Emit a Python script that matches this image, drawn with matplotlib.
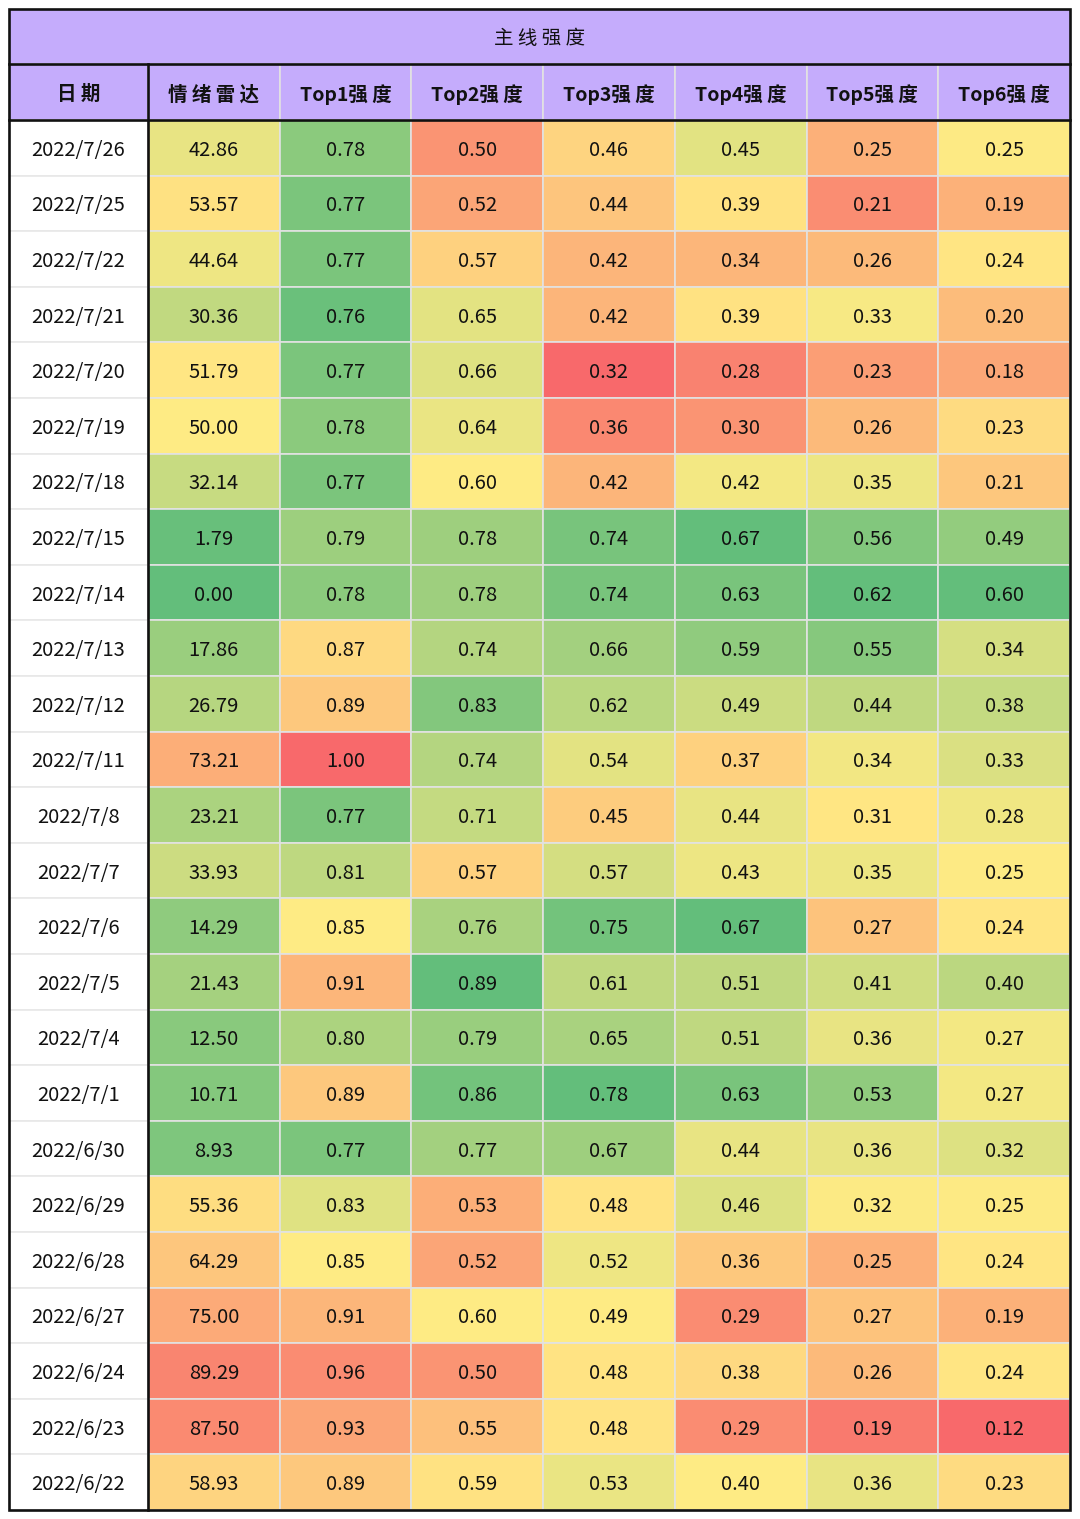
import matplotlib
matplotlib.use("Agg")
import matplotlib.pyplot as plt
from matplotlib.patches import Rectangle
from matplotlib.colors import LinearSegmentedColormap, TwoSlopeNorm

plt.rcParams["font.family"] = ["Noto Sans CJK SC", "DejaVu Sans"]

title = "主 线 强 度"
headers = ["日 期", "情 绪 雷 达", "Top1强 度", "Top2强 度", "Top3强 度",
           "Top4强 度", "Top5强 度", "Top6强 度"]

dates = ["2022/7/26", "2022/7/25", "2022/7/22", "2022/7/21", "2022/7/20",
         "2022/7/19", "2022/7/18", "2022/7/15", "2022/7/14", "2022/7/13",
         "2022/7/12", "2022/7/11", "2022/7/8", "2022/7/7", "2022/7/6",
         "2022/7/5", "2022/7/4", "2022/7/1", "2022/6/30", "2022/6/29",
         "2022/6/28", "2022/6/27", "2022/6/24", "2022/6/23", "2022/6/22"]

sentiment = [42.86, 53.57, 44.64, 30.36, 51.79, 50.00, 32.14, 1.79, 0.00, 17.86,
             26.79, 73.21, 23.21, 33.93, 14.29, 21.43, 12.50, 10.71, 8.93, 55.36,
             64.29, 75.00, 89.29, 87.50, 58.93]
top1 = [0.78, 0.77, 0.77, 0.76, 0.77, 0.78, 0.77, 0.79, 0.78, 0.87, 0.89, 1.00, 0.77,
        0.81, 0.85, 0.91, 0.80, 0.89, 0.77, 0.83, 0.85, 0.91, 0.96, 0.93, 0.89]
top2 = [0.50, 0.52, 0.57, 0.65, 0.66, 0.64, 0.60, 0.78, 0.78, 0.74, 0.83, 0.74, 0.71,
        0.57, 0.76, 0.89, 0.79, 0.86, 0.77, 0.53, 0.52, 0.60, 0.50, 0.55, 0.59]
top3 = [0.46, 0.44, 0.42, 0.42, 0.32, 0.36, 0.42, 0.74, 0.74, 0.66, 0.62, 0.54, 0.45,
        0.57, 0.75, 0.61, 0.65, 0.78, 0.67, 0.48, 0.52, 0.49, 0.48, 0.48, 0.53]
top4 = [0.45, 0.39, 0.34, 0.39, 0.28, 0.30, 0.42, 0.67, 0.63, 0.59, 0.49, 0.37, 0.44,
        0.43, 0.67, 0.51, 0.51, 0.63, 0.44, 0.46, 0.36, 0.29, 0.38, 0.29, 0.40]
top5 = [0.25, 0.21, 0.26, 0.33, 0.23, 0.26, 0.35, 0.56, 0.62, 0.55, 0.44, 0.34, 0.31,
        0.35, 0.27, 0.41, 0.36, 0.53, 0.36, 0.32, 0.25, 0.27, 0.26, 0.19, 0.36]
top6 = [0.25, 0.19, 0.24, 0.20, 0.18, 0.23, 0.21, 0.49, 0.60, 0.34, 0.38, 0.33, 0.28,
        0.25, 0.24, 0.40, 0.27, 0.27, 0.32, 0.25, 0.24, 0.19, 0.24, 0.12, 0.23]

columns = [sentiment, top1, top2, top3, top4, top5, top6]

# colour-scale anchors per column: (red end, yellow mid, green end)
scale_anchors = [(100, 50, 0), (1.00, 0.85, 0.755), (0.45, 0.60, 0.89),
                 (0.32, 0.49, 0.78), (0.25, 0.40, 0.67), (0.17, 0.315, 0.62),
                 (0.12, 0.245, 0.60)]

cmap = LinearSegmentedColormap.from_list("ryg", ["#F8696B", "#FFEB84", "#63BE7B"])

# layout in pixels
W, H = 1080, 1519
left, right, top, bottom = 9, 1070, 9, 1510
title_h, head_h = 55, 56
date_w = 139
header_bg = "#C5ACFC"
grid_col = "#E2E2E2"
txt_dy = 2.5  # text sits a touch below the cell middle

fig = plt.figure(figsize=(W / 100, H / 100), dpi=100)
ax = fig.add_axes([0, 0, 1, 1])
ax.set_xlim(0, W)
ax.set_ylim(H, 0)
ax.axis("off")

n_rows = len(dates)
n_cols = len(columns)
col_w = (right - left - date_w) / n_cols
row_h = (bottom - top - title_h - head_h) / n_rows
body_top = top + title_h + head_h

col_x = [left] + [left + date_w + i * col_w for i in range(n_cols)]
col_widths = [date_w] + [col_w] * n_cols

# title row
ax.add_patch(Rectangle((left, top), right - left, title_h, facecolor=header_bg,
                       edgecolor="none"))
ax.text((left + right) / 2, top + title_h / 2 + txt_dy, title, ha="center",
        va="center", fontsize=14, color="#111111")

# header row
for x, w, label in zip(col_x, col_widths, headers):
    ax.add_patch(Rectangle((x, top + title_h), w, head_h, facecolor=header_bg,
                           edgecolor=grid_col, linewidth=1.2))
    ax.text(x + w / 2, top + title_h + head_h / 2 + txt_dy, label, ha="center",
            va="center", fontsize=14, fontweight="bold", color="#111111")

# body
for r, d in enumerate(dates):
    y = body_top + r * row_h
    ax.add_patch(Rectangle((left, y), date_w, row_h, facecolor="white",
                           edgecolor="#E8E8E8", linewidth=1.2))
    ax.text(left + date_w / 2, y + row_h / 2 + txt_dy, d, ha="center", va="center",
            fontsize=14.5, color="#111111")
    for c, vals in enumerate(columns):
        lo, mid, hi = scale_anchors[c]
        if lo < hi:
            norm = TwoSlopeNorm(vcenter=mid, vmin=lo, vmax=hi)
            frac = float(norm(vals[r]))
        else:
            norm = TwoSlopeNorm(vcenter=mid, vmin=hi, vmax=lo)
            frac = 1 - float(norm(vals[r]))
        frac = min(max(frac, 0), 1)
        x = col_x[c + 1]
        ax.add_patch(Rectangle((x, y), col_w, row_h, facecolor=cmap(frac),
                               edgecolor=grid_col, linewidth=1.2))
        ax.text(x + col_w / 2, y + row_h / 2 + txt_dy, f"{vals[r]:.2f}", ha="center",
                va="center", fontsize=14.5, color="#111111")

# heavy borders
lw = 1.9
ax.add_patch(Rectangle((left, top), right - left, bottom - top, facecolor="none",
                       edgecolor="#111111", linewidth=lw))
ax.plot([left, right], [top + title_h, top + title_h], color="#111111", lw=lw)
ax.plot([left, right], [body_top, body_top], color="#111111", lw=lw)
ax.plot([left + date_w, left + date_w], [top + title_h, bottom], color="#111111", lw=lw)

fig.savefig("out.png", dpi=100)
